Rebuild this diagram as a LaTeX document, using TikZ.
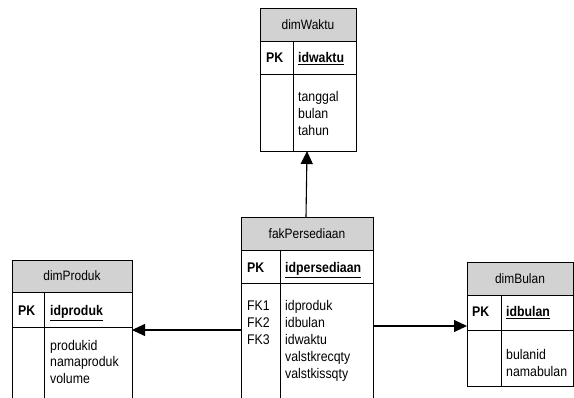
\documentclass[tikz,border=0pt]{standalone}
\usepackage{fontspec}
\setmainfont{Liberation Sans}[FakeStretch=0.88]
\usetikzlibrary{arrows.meta}
\definecolor{hdrgray}{RGB}{210,210,210}
\begin{document}
\begin{tikzpicture}[x=1pt,y=-1pt,
  box/.style={draw=black, line width=0.8pt, inner sep=0pt, outer sep=0pt, anchor=north west},
  hdrbox/.style={box, fill=hdrgray, font=\fontsize{13.6}{15}\selectfont},
  txt/.style={font=\fontsize{14}{17}\selectfont, anchor=base west, inner sep=0pt},
  keytxt/.style={font=\fontsize{14}{17}\selectfont\bfseries, anchor=base west, inner sep=0pt},
  divider/.style={draw=black, line width=0.8pt},
  conn/.style={draw=black, line width=1.1pt, -{Triangle[length=13pt,width=12pt]}}
]
\clip (0,0) rectangle (574,398);
\fill[white] (0,0) rectangle (574,398);

% dimWaktu
\node[hdrbox, minimum width=96pt, minimum height=33pt] (wH) at (260,8) {dimWaktu};
\node[box, minimum width=96pt, minimum height=33pt] (wK) at (260,41) {};
\node[box, minimum width=96pt, minimum height=77pt] (wB) at (260,74) {};
\draw[divider] ([xshift=33pt]wK.north west) -- ([xshift=33pt]wB.south west);
\node[keytxt] (wPK) at (266,63) {PK};
\node[keytxt] (wid) at (298,63) {\underline{idwaktu}};
\node[txt] (w1) at (298,102) {tanggal};
\node[txt] (w2) at (298,119) {bulan};
\node[txt] (w3) at (298,136) {tahun};

% fakPersediaan
\node[hdrbox, minimum width=132pt, minimum height=33pt] (fH) at (241,217) {fakPersediaan};
\node[box, minimum width=132pt, minimum height=33pt] (fK) at (241,250) {};
\node[box, minimum width=132pt, minimum height=130pt] (fB) at (241,283) {};
\draw[divider] ([xshift=39pt]fK.north west) -- ([xshift=39pt]fB.south west);
\node[keytxt] (fPK) at (247,273) {PK};
\node[keytxt] (fid) at (285,273) {\underline{idpersediaan}};
\node[txt] (fk1) at (247,311) {FK1};
\node[txt] (fk2) at (247,328) {FK2};
\node[txt] (fk3) at (247,345) {FK3};
\node[txt] (f1) at (285,311) {idproduk};
\node[txt] (f2) at (285,328) {idbulan};
\node[txt] (f3) at (285,345) {idwaktu};
\node[txt] (f4) at (285,362) {valstkrecqty};
\node[txt] (f5) at (285,379) {valstkissqty};

% dimProduk
\node[hdrbox, minimum width=120pt, minimum height=32pt] (pH) at (12,260) {dimProduk};
\node[box, minimum width=120pt, minimum height=35pt] (pK) at (12,292) {};
\node[box, minimum width=120pt, minimum height=90pt] (pB) at (12,327) {};
\draw[divider] ([xshift=32pt]pK.north west) -- ([xshift=32pt]pB.south west);
\node[keytxt] (pPK) at (18,316) {PK};
\node[keytxt] (pid) at (50,316) {\underline{idproduk}};
\node[txt] (p1) at (50,351) {produkid};
\node[txt] (p2) at (50,367) {namaproduk};
\node[txt] (p3) at (50,384) {volume};

% dimBulan
\node[hdrbox, minimum width=106pt, minimum height=33pt] (bH) at (467,262) {dimBulan};
\node[box, minimum width=106pt, minimum height=35pt] (bK) at (467,295) {};
\node[box, minimum width=106pt, minimum height=56pt] (bB) at (467,330) {};
\draw[divider] ([xshift=34pt]bK.north west) -- ([xshift=34pt]bB.south west);
\node[keytxt] (bPK) at (472,317) {PK};
\node[keytxt] (bid) at (506,317) {\underline{idbulan}};
\node[txt] (b1) at (506,360) {bulanid};
\node[txt] (b2) at (506,377) {namabulan};

% connectors
\draw[conn] ([xshift=-1pt]fH.north) -- ([xshift=-1pt]wB.south);
\coordinate (fL) at (fB.west |- 0,330);
\draw[conn] (fL) -- (fL -| pB.east);
\coordinate (fR) at (fB.east |- 0,326);
\draw[conn] (fR) -- (fR -| bB.west);
\end{tikzpicture}
\end{document}
